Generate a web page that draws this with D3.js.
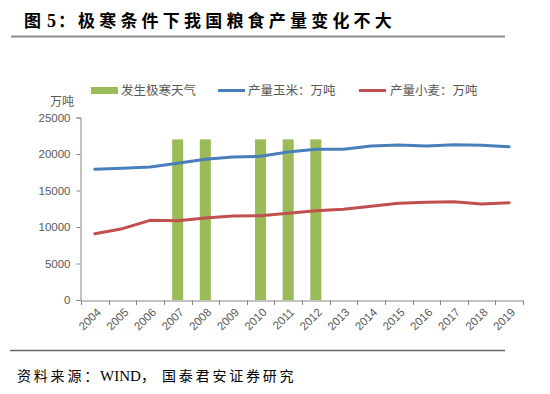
<!DOCTYPE html>
<html><head><meta charset="utf-8">
<script src="https://cdn.jsdelivr.net/npm/d3@7/dist/d3.min.js"></script>
<style>
html,body{margin:0;padding:0;background:#fff;}
svg{display:block;}
</style></head>
<body><svg id="c" width="550" height="394"></svg>
<script>
const years = ["2004","2005","2006","2007","2008","2009","2010","2011","2012","2013","2014","2015","2016","2017","2018","2019"];
const coldYears = ["2007","2008","2010","2011","2012"];
const coldValue = 22000;
const corn = [17900,18040,18220,18730,19270,19590,19690,20270,20640,20640,21100,21230,21100,21280,21190,21000];
const wheat = [9080,9770,10910,10870,11230,11510,11550,11870,12240,12420,12830,13240,13380,13470,13150,13330];
const yTicks = [0,5000,10000,15000,20000,25000];
const legendLabels = ["发生极寒天气","产量玉米：万吨","产量小麦：万吨"];
const titlePrefix = ["图","5","："];
const title = "极寒条件下我国粮食产量变化不大";
const sourcePieces = ["资料来源：","WIND","，","国泰君安证券研究"];
const unit = "万吨";

const svg = d3.select("#c");
const CJK = "'Noto Sans CJK SC', sans-serif";
const NUM = "'Liberation Sans', Arial, sans-serif";
const SERIF = "'Liberation Serif', 'DejaVu Serif', serif";
const gray = "#595959";
const axisCol = "#868686";
const cGreen = "#9BBB59", cBlue = "#4A7EBB", cRed = "#C0504D";

// title
const tx = [24,47,58];
titlePrefix.forEach((t,i)=>{
  svg.append("text").attr("x",tx[i]).attr("y",27).attr("font-family",i===1?SERIF:CJK).attr("font-size",i===1?18:17)
    .attr("font-weight","bold").attr("fill","#000").text(t);
});
svg.append("text").attr("x",78).attr("y",27).attr("font-family",CJK).attr("font-size",17)
  .attr("font-weight","bold").attr("letter-spacing",4.2).attr("fill","#000").text(title);
svg.append("line").attr("x1",11).attr("x2",505).attr("y1",36.5).attr("y2",36.5)
  .attr("stroke","#8c8c8c").attr("stroke-width",2);

const x = d3.scaleBand().domain(years).range([81,523]).paddingInner(0).paddingOuter(0);
const y = d3.scaleLinear().domain([0,25000]).range([300,117.5]);

// y axis
const ya = svg.append("g").attr("transform","translate(80.5,0)")
  .call(d3.axisLeft(y).tickValues(yTicks).tickSize(4).tickPadding(6).tickFormat(d3.format("d")));
ya.select(".domain").attr("stroke",axisCol);
ya.selectAll(".tick line").attr("stroke",axisCol);
ya.selectAll("text").attr("font-family",NUM).attr("font-size",11.5).attr("fill",gray);

// x axis
const xa = svg.append("g").attr("transform","translate(0,300.5)")
  .call(d3.axisBottom(x).tickSize(0).tickFormat(""));
xa.select(".domain").attr("stroke",axisCol);
xa.selectAll(".tick").remove();
const edges = years.map(d=>x(d)).concat([x.range()[1]]);
svg.append("g").selectAll("line").data(edges).join("line")
  .attr("x1",d=>Math.round(d)+0.5).attr("x2",d=>Math.round(d)+0.5)
  .attr("y1",300.5).attr("y2",305).attr("stroke",axisCol);
svg.append("g").selectAll("text").data(years).join("text")
  .attr("transform",d=>`translate(${x(d)+x.bandwidth()/2+4},${310}) rotate(-45)`)
  .attr("text-anchor","end").attr("font-family",NUM).attr("font-size",11.5).attr("fill",gray)
  .attr("dy","0.35em").text(d=>d);

// unit
svg.append("text").attr("x",50).attr("y",106).attr("font-family",CJK).attr("font-size",12)
  .attr("fill",gray).text(unit);

// bars
const bw = x.bandwidth()*0.4;
svg.append("g").selectAll("rect").data(coldYears).join("rect")
  .attr("x",d=>x(d)+x.bandwidth()/2-bw/2).attr("width",bw)
  .attr("y",y(coldValue)).attr("height",y(0)-y(coldValue)).attr("fill",cGreen);

// lines
const line = d3.line().x((d,i)=>x(years[i])+x.bandwidth()/2).y(d=>y(d));
svg.append("path").datum(corn).attr("d",line).attr("fill","none").attr("stroke",cBlue)
  .attr("stroke-width",3).attr("stroke-linejoin","round").attr("stroke-linecap","round");
svg.append("path").datum(wheat).attr("d",line).attr("fill","none").attr("stroke",cRed)
  .attr("stroke-width",3).attr("stroke-linejoin","round").attr("stroke-linecap","round");

// legend
const leg = [{sx:91,tx:121,c:cGreen,w:7},{sx:218,tx:248,c:cBlue,w:3},{sx:359,tx:390,c:cRed,w:3}];
leg.forEach((l,i)=>{
  svg.append("line").attr("x1",l.sx).attr("x2",l.sx+27).attr("y1",90.5).attr("y2",90.5)
    .attr("stroke",l.c).attr("stroke-width",l.w);
  svg.append("text").attr("x",l.tx).attr("y",95).attr("font-family",CJK).attr("font-size",12.5)
    .attr("fill",gray).text(legendLabels[i]);
});

// bottom rule & source
svg.append("line").attr("x1",10).attr("x2",505).attr("y1",350.5).attr("y2",350.5)
  .attr("stroke","#666").attr("stroke-width",1.5);
const sx = [17,100,141,162];
sourcePieces.forEach((t,i)=>{
  svg.append("text").attr("x",sx[i]).attr("y",381).attr("font-family",i===1?SERIF:CJK)
    .attr("font-size",i===1?15:14).attr("letter-spacing",i===1?0:2.8).attr("fill","#000").text(t);
});
</script></body></html>
